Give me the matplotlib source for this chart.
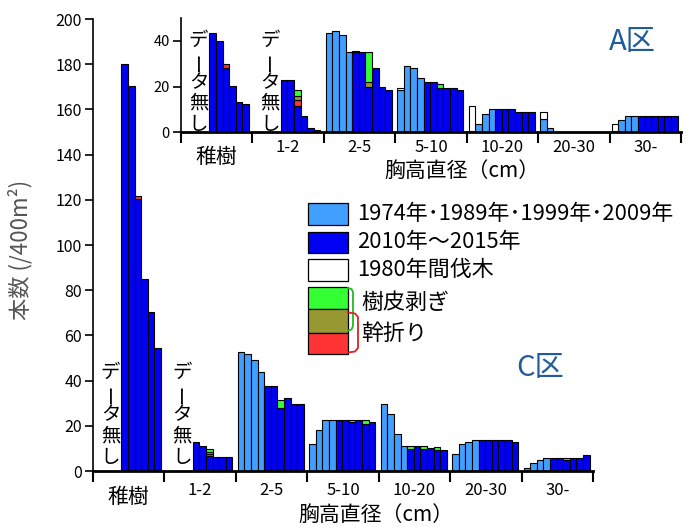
import numpy as np
import matplotlib
matplotlib.use("Agg")
import matplotlib.pyplot as plt
from matplotlib.patches import Rectangle

plt.rcParams['font.family'] = ['Noto Sans CJK JP', 'DejaVu Sans']

# --- data ---
groups = ["稚樹", "1-2", "2-5", "5-10", "10-20", "20-30", "30-"]
# 10 bars per class: 1974, 1989, 1999, 2009 (light) then 2010..2015 (dark)
n_old = 4
no_data = ["稚樹", "1-2"]

# A区 (inset)
a_base = [
    [0, 0, 0, 0, 43.6, 40.1, 28.0, 20.2, 13.2, 12.2],
    [0, 0, 0, 0, 22.7, 22.7, 11.6, 7.0, 1.9, 0.9],
    [43.6, 44.4, 42.8, 35.0, 35.0, 35.0, 20.0, 28.0, 20.0, 18.3],
    [18.3, 28.9, 28.0, 23.6, 21.8, 21.8, 19.2, 19.2, 19.2, 18.3],
    [0.5, 3.5, 7.8, 10.3, 10.3, 10.3, 10.3, 8.7, 8.7, 8.7],
    [5.9, 1.6, 0, 0, 0, 0, 0, 0, 0, 0],
    [0.5, 5.3, 7.0, 7.0, 7.0, 7.0, 7.0, 7.0, 7.0, 7.0],
]
a_white = [("5-10", 0, 0.9), ("10-20", 0, 11.0), ("20-30", 0, 2.9), ("30-", 0, 3.0)]
a_red = [("稚樹", 6, 1.7), ("1-2", 6, 2.5)]
a_olive = [("1-2", 6, 1.8), ("2-5", 6, 1.8)]
a_green = [("1-2", 6, 2.5), ("2-5", 4, 0.7), ("2-5", 6, 13.2), ("5-10", 6, 1.8)]

# C区 (main)
c_base = [
    [0, 0, 0, 0, 180.0, 170.4, 120.2, 84.8, 70.2, 54.3],
    [0, 0, 0, 0, 13.0, 11.2, 6.5, 6.0, 6.0, 6.0],
    [52.5, 51.8, 49.1, 43.7, 37.5, 37.5, 28.0, 32.3, 29.6, 29.6],
    [12.1, 18.3, 22.6, 22.6, 22.6, 22.6, 21.8, 22.6, 20.7, 21.7],
    [29.5, 25.1, 16.5, 11.2, 9.9, 11.2, 9.9, 10.3, 9.3, 9.3],
    [7.7, 12.1, 13.0, 13.8, 13.8, 13.8, 13.8, 13.8, 13.8, 13.0],
    [1.5, 3.4, 5.0, 5.9, 5.9, 5.9, 5.0, 5.9, 5.9, 6.9],
]
c_white = []
c_red = [("稚樹", 6, 1.6), ("1-2", 6, 1.0)]
c_olive = [("1-2", 6, 0.8)]
c_green = [("1-2", 6, 1.4), ("2-5", 6, 3.3), ("5-10", 6, 0.8), ("5-10", 8, 1.9),
           ("10-20", 4, 1.3), ("10-20", 6, 1.3), ("10-20", 8, 1.2), ("30-", 6, 0.9)]

legend_labels = ["1974年･1989年･1999年･2009年", "2010年～2015年", "1980年間伐木"]

# --- colors ---
c_light = "#41a0ff"
c_dark = "#0000f5"
c_whitebar = "#ffffff"
c_greenbar = "#33ff33"
c_olivebar = "#999933"
c_redbar = "#ff3333"
c_zone = "#1f5b9e"

slot_w = 0.0924
slot_off = 0.028


def to_array(items):
    arr = np.zeros((len(groups), 10))
    for g, s, v in items:
        arr[groups.index(g), s] = v
    return arr


def draw_zone(ax, base, white, red, olive, green, top_step):
    base = np.array(base, dtype=float)
    layers = [(to_array(red), c_redbar), (to_array(olive), c_olivebar),
              (to_array(green), c_greenbar), (to_array(white), c_whitebar)]
    for g in range(len(groups)):
        xs = g + slot_off + np.arange(10) * slot_w
        cols = [c_light if s < n_old else c_dark for s in range(10)]
        hb = base[g]
        m = hb > 0
        ax.bar(xs[m], hb[m], width=slot_w, align='edge', color=np.array(cols)[m],
               edgecolor='black', linewidth=0.8, zorder=2)
        bottom = hb.copy()
        for arr, col in layers:
            h = arr[g]
            mm = h > 0
            if mm.any():
                ax.bar(xs[mm], h[mm], bottom=bottom[mm], width=slot_w, align='edge',
                       color=col, edgecolor='black', linewidth=0.8, zorder=2)
            bottom = bottom + h
    # "データ無し" written vertically
    for name in no_data:
        g = groups.index(name)
        y0, step = top_step
        for k, ch in enumerate("データ無し"):
            ax.text(g + 0.245, y0 - k * step, ch, ha='center', va='center',
                    fontsize=14, rotation=90 if ch == "ー" else 0, zorder=3)


def style_axes(ax, ymax, yticks, lab_fs, off_num, off_jp, off_xl, xl_x):
    ax.set_xlim(0, len(groups))
    ax.set_ylim(0, ymax)
    ax.set_yticks(yticks)
    ax.set_xticks(np.arange(len(groups) + 1))
    ax.set_xticklabels([])
    ax.tick_params(axis='x', direction='out', length=8, width=1.5)
    ax.tick_params(axis='y', direction='out', length=6, width=1.2, labelsize=lab_fs, pad=2)
    for s in ['top', 'right']:
        ax.spines[s].set_visible(False)
    ax.spines['bottom'].set_linewidth(2)
    ax.spines['left'].set_linewidth(1.2)
    ax.set_facecolor('none')
    tr = ax.get_xaxis_transform()
    for i, name in enumerate(groups):
        if name == "稚樹":
            ax.annotate(name, (i + 0.5, 0), xycoords=tr, xytext=(0, off_jp),
                        textcoords='offset points', ha='center', va='center', fontsize=15)
        else:
            ax.annotate(name, (i + 0.5, 0), xycoords=tr, xytext=(0, off_num),
                        textcoords='offset points', ha='center', va='center', fontsize=12)
    ax.annotate("胸高直径（cm）", (xl_x, 0), xycoords=tr, xytext=(0, off_xl),
                textcoords='offset points', ha='center', va='center', fontsize=15)


fig = plt.figure(figsize=(6.88, 5.27), dpi=100)

ax = fig.add_axes([93 / 688, 1 - 471 / 527, 500 / 688, 452 / 527])
draw_zone(ax, c_base, c_white, c_red, c_olive, c_green, (43.8, 9.5))
style_axes(ax, 200, np.arange(0, 201, 20), 11.5, -13.7, -18.7, -31.7, 3.96)

axi = fig.add_axes([181 / 688, 1 - 132 / 527, 500 / 688, 113.75 / 527])
draw_zone(axi, a_base, a_white, a_red, a_olive, a_green, (40.1, 9.15))
style_axes(axi, 50, [0, 20, 40], 10.5, -11.5, -18, -28, 3.93)

fig.text(20 / 688, 1 - 250 / 527, "本数 (/400m²)", rotation=90, ha='center', va='center',
         fontsize=16, color='#555555')
fig.text(632 / 688, 1 - 42 / 527, "A区", ha='center', va='center', fontsize=21, color=c_zone)
fig.text(540 / 688, 1 - 368 / 527, "C区", ha='center', va='center', fontsize=21, color=c_zone)

# --- legend drawn in pixel coordinates ---
lg = fig.add_axes([0, 0, 1, 1], zorder=5)
lg.set_xlim(0, 688)
lg.set_ylim(527, 0)
lg.axis('off')
boxes = [(203, 225, c_light), (232, 253, c_dark), (259, 281, c_whitebar),
         (287, 309, c_greenbar), (309, 333, c_olivebar), (333, 354, c_redbar)]
for y0, y1, col in boxes:
    lg.add_patch(Rectangle((308, y0), 40, y1 - y0, facecolor=col, edgecolor='black', linewidth=0.9))
for yc, lab in zip([214, 242, 270], legend_labels):
    lg.text(357, yc, lab, ha='left', va='center', fontsize=15.8)
lg.plot([348, 351.5, 353, 353, 351.5, 348], [288, 289, 292, 326, 329.5, 330.5],
        color='#22bb22', linewidth=1.3)
lg.plot([348, 355, 358, 358, 355, 348], [312.5, 313.5, 317, 348, 351.5, 352.5],
        color='#dd2222', linewidth=1.3)
lg.text(361, 303, "樹皮剥ぎ", ha='left', va='center', fontsize=15.8)
lg.text(361, 334, "幹折り", ha='left', va='center', fontsize=15.8)

fig.savefig("out.png", dpi=100)
